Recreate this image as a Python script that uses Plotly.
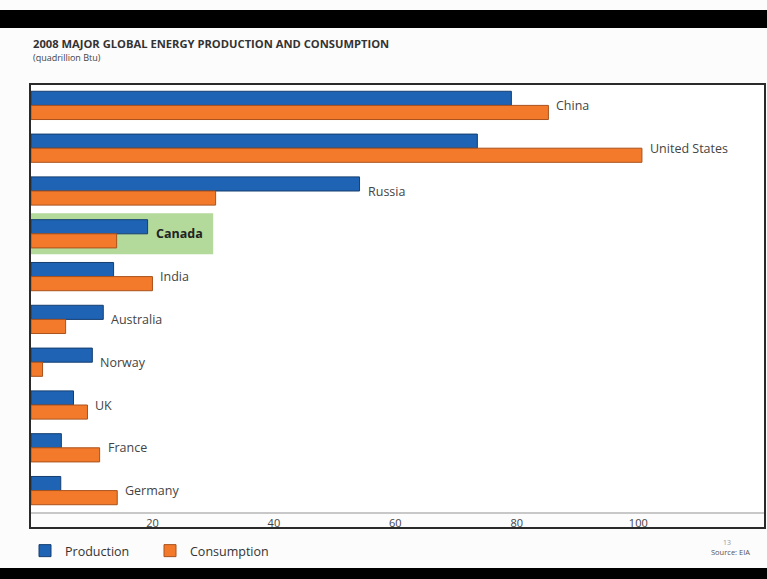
import plotly.graph_objects as go

countries = ["China", "United States", "Russia", "Canada", "India",
             "Australia", "Norway", "UK", "France", "Germany"]
production = [79.1, 73.5, 54.1, 19.2, 13.6, 11.9, 10.1, 7.0, 5.0, 4.9]
consumption = [85.2, 100.6, 30.4, 14.1, 20.0, 5.7, 1.9, 9.3, 11.3, 14.2]
tick_vals = [20, 40, 60, 80, 100]
highlight = "Canada"
highlight_extent = 30

BLUE = "#1e63b4"
ORANGE = "#f47a2b"
FONT = "Open Sans"

W, H = 767, 579
L, R, T, B = 31, 3, 84, 67
PH = H - T - B
PW = W - L - R


def py(p):  # pixel y -> paper y
    return (H - B - p) / PH


def px(p):  # pixel x -> paper x
    return (p - L) / PW


fig = go.Figure()
fig.add_trace(go.Bar(
    y=countries, x=production, orientation="h", name="Production",
    marker=dict(color=BLUE, line=dict(color="#163f70", width=1)),
))
fig.add_trace(go.Bar(
    y=countries, x=consumption, orientation="h", name="Consumption",
    marker=dict(color=ORANGE, line=dict(color="#a9521c", width=1)),
))

annotations = []
for c, p, q in zip(countries, production, consumption):
    bold = c == highlight
    annotations.append(dict(
        x=max(p, q), y=c, xref="x", yref="y", xanchor="left", yanchor="middle",
        xshift=6, showarrow=False,
        text=f"<b>{c}</b>" if bold else c,
        font=dict(family=FONT, size=12.5, color="#222" if bold else "#444"),
    ))

annotations += [
    dict(x=0, y=py(43), xref="paper", yref="paper", xanchor="left", yanchor="middle",
         showarrow=False, text="<b>2008 MAJOR GLOBAL ENERGY PRODUCTION AND CONSUMPTION</b>",
         font=dict(family=FONT, size=11.2, color="#333")),
    dict(x=0, y=py(57), xref="paper", yref="paper", xanchor="left", yanchor="middle",
         showarrow=False, text="(quadrillion Btu)",
         font=dict(family=FONT, size=9, color="#444")),
    dict(x=px(752), y=py(552), xref="paper", yref="paper", xanchor="right", yanchor="middle",
         showarrow=False, text="Source: EIA",
         font=dict(family=FONT, size=7.5, color="#555")),
    dict(x=px(727), y=py(542), xref="paper", yref="paper", xanchor="center", yanchor="middle",
         showarrow=False, text="13",
         font=dict(family=FONT, size=7, color="#999")),
]

idx = countries.index(highlight)
shapes = [
    dict(type="rect", xref="x", yref="y", x0=0, x1=highlight_extent,
         y0=idx - 0.48, y1=idx + 0.48, fillcolor="#b3d99b", line=dict(width=0),
         layer="below"),
    dict(type="rect", xref="paper", yref="paper", x0=px(30), x1=px(765),
         y0=py(528), y1=py(84), line=dict(color="#2a2a2a", width=2)),
    dict(type="rect", xref="paper", yref="paper", x0=-0.1, x1=1.1,
         y0=py(28), y1=py(10), fillcolor="black", line=dict(width=0)),
    dict(type="rect", xref="paper", yref="paper", x0=-0.1, x1=1.1,
         y0=py(579), y1=py(568), fillcolor="black", line=dict(width=0)),
]

fig.update_layout(
    width=W, height=H,
    margin=dict(l=L, r=R, t=T, b=B, autoexpand=False),
    paper_bgcolor="#fcfcfc", plot_bgcolor="white",
    barmode="group", bargap=0.34, bargroupgap=0,
    font=dict(family=FONT, color="#444"),
    annotations=annotations, shapes=shapes,
    showlegend=True,
    legend=dict(orientation="h", x=px(25), y=py(551), xanchor="left", yanchor="middle",
                entrywidth=80,
                font=dict(family=FONT, size=12.5, color="#333"),
                bgcolor="rgba(0,0,0,0)", traceorder="normal"),
    xaxis=dict(range=[0, 120.7], tickvals=tick_vals, showgrid=False, zeroline=False,
               showline=True, linecolor="#c8c8c8", linewidth=2, ticks="",
               tickfont=dict(family=FONT, size=11, color="#444")),
    yaxis=dict(autorange="reversed", showticklabels=False, showgrid=False,
               zeroline=False, showline=True, linecolor="#333", linewidth=2, ticks=""),
)

fig.write_html("out.html", config={"displayModeBar": False},
               post_script="document.body.style.margin='0';document.body.style.overflow='hidden';")
